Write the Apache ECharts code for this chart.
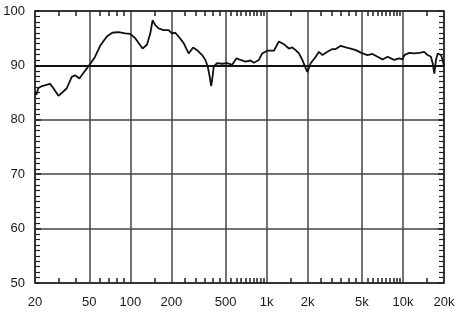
<!DOCTYPE html>
<html>
<head>
<meta charset="utf-8">
<script src="https://cdn.jsdelivr.net/npm/echarts@6/dist/echarts.min.js"></script>
<style>
html,body{margin:0;padding:0;background:#fff;}
#chart{width:463px;height:318px;}
</style>
</head>
<body>
<div id="chart"></div>
<script>
// Frequency (Hz) and level (dB)
var freqs = [20,20.5,21.1,22.5,25.8,27.3,29.7,32.3,34.2,37.2,39.4,42.3,45.3,49.9,55.2,60.1,67.3,73.7,82,91.8,
  99.9,108.7,115.1,123,132.5,140.2,145.8,152.5,161.4,175.5,191,202,213.6,226.2,246.2,268,288.9,309,336.5,355.7,
  369.8,382.5,392,402.6,409.4,433.6,472,513.5,558.9,574.5,601.5,643.4,700.3,762.2,806,877.2,928.6,1010,1130,1230,
  1339,1457,1543,1632,1726,1828,1933,1990,2104,2291,2422,2565,2792,3041,3215,3500,3806,4143,4509,5050,
  5497,5983,6512,7088,7714,8160,8630,9390,9940,10220,11120,12100,13170,14330,15170,16040,16520,16980,17460,17980,
  19010,19550,20000];
var levels = [85.1,84.6,85.8,86.2,86.6,85.8,84.4,85.2,85.8,87.9,
  88.2,87.6,88.6,90.0,91.6,93.6,95.3,96.0,96.1,95.9,
  95.8,95.0,94.1,93.1,93.8,95.9,98.3,97.4,96.8,96.5,
  96.5,95.9,96.0,95.3,94.1,92.2,93.3,92.8,91.9,91.0,
  89.8,87.9,86.2,88.2,89.8,90.4,90.3,90.4,90.1,89.9,
  91.3,91.0,90.7,90.9,90.5,91.0,92.2,92.7,92.7,94.4,
  93.9,93.1,93.3,92.8,92.2,91.0,89.5,88.8,90.4,91.6,
  92.5,91.9,92.5,93.0,93.0,93.6,93.3,93.1,92.8,92.2,
  91.9,92.1,91.6,91.1,91.6,91.3,91.0,91.3,91.1,91.9,
  92.3,92.2,92.3,92.5,91.9,91.6,90.4,88.5,91.0,92.2,
  91.9,91.0,89.9];
var xMajorValues = [20,50,100,200,500,1000,2000,5000,10000,20000];
var xMajorLabels = ['20','50','100','200','500','1k','2k','5k','10k','20k'];
var xMinorValues = [30,40,60,70,80,90,150,250,300,350,400,450,550,600,650,700,750,800,850,900,950,
  1500,2500,3000,3500,4000,4500,5500,6000,6500,7000,7500,8000,8500,9000,9500,15000];
var yMin = 50, yMax = 100, yStep = 10;
var refLevel = 90;

var lg = function (v) { return Math.log10(v); };
var xMin = lg(20), xMax = lg(20000);
var majorLog = xMajorValues.map(lg);
var minorLog = xMinorValues.map(lg);
var data = freqs.map(function (f, i) { return [lg(f), levels[i]]; });

var font = 'Liberation Sans';
var axisCol = '#222';
var tickCol = '#222';
var gridCol = '#444';

function fmtX(v) {
  var best = 0, bd = Infinity;
  for (var i = 0; i < majorLog.length; i++) {
    var d = Math.abs(majorLog[i] - v);
    if (d < bd) { bd = d; best = i; }
  }
  return xMajorLabels[best];
}

var minorTickAxis = function (pos) {
  return {
    type: 'value', position: pos, min: xMin, max: xMax,
    axisLine: { show: pos === 'top', onZero: false, lineStyle: { color: axisCol, width: 1.5 } },
    axisTick: { show: true, inside: true, length: 5, customValues: minorLog, lineStyle: { color: tickCol, width: 1.5 } },
    axisLabel: { show: false },
    splitLine: { show: false }
  };
};
var yAxisBase = function (pos) {
  return {
    type: 'value', position: pos, min: yMin, max: yMax, interval: yStep,
    axisLine: { show: true, onZero: false, lineStyle: { color: axisCol, width: 1.5 } },
    axisTick: { show: true, inside: true, length: 6, lineStyle: { color: tickCol, width: 1.5 } },
    minorTick: { show: true, splitNumber: 10, length: 5, lineStyle: { color: tickCol, width: 1.2 } },
    axisLabel: pos === 'left'
      ? { margin: 10, fontFamily: font, fontSize: 13, color: '#1a1a1a' }
      : { show: false },
    splitLine: { show: pos === 'left', lineStyle: { color: gridCol, width: 1.5 } }
  };
};

var chart = echarts.init(document.getElementById('chart'));
chart.setOption({
  animation: false,
  backgroundColor: '#fff',
  grid: { left: 35, right: 19, top: 11, bottom: 35, containLabel: false },
  xAxis: [
    {
      type: 'value', position: 'bottom', min: xMin, max: xMax,
      axisLine: { show: true, onZero: false, lineStyle: { color: axisCol, width: 1.5 } },
      axisTick: { show: false, customValues: majorLog },
      axisLabel: { customValues: majorLog, formatter: fmtX, margin: 13, fontFamily: font, fontSize: 13, color: '#1a1a1a' },
      splitLine: { show: true, lineStyle: { color: gridCol, width: 1.5 } }
    },
    minorTickAxis('bottom'),
    minorTickAxis('top')
  ],
  yAxis: [yAxisBase('left'), yAxisBase('right')],
  series: [
    {
      type: 'line', xAxisIndex: 0, yAxisIndex: 0, data: data,
      showSymbol: false, symbol: 'none',
      lineStyle: { color: '#111', width: 1.8 },
      markLine: {
        silent: true, symbol: 'none', label: { show: false },
        lineStyle: { color: '#111', width: 2.2, type: 'solid' },
        data: [{ yAxis: refLevel }]
      }
    }
  ]
});
</script>
</body>
</html>
